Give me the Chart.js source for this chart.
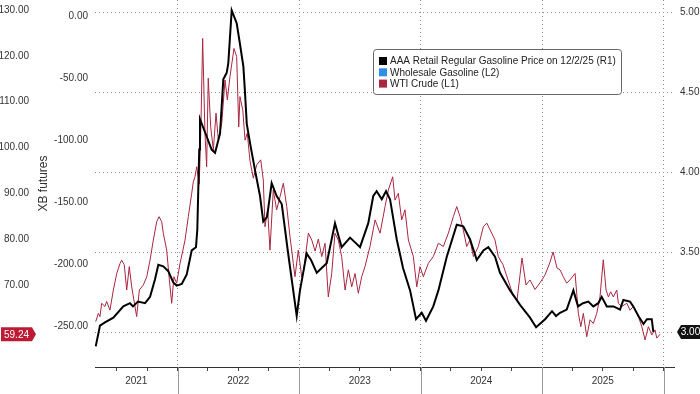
<!DOCTYPE html>
<html>
<head>
<meta charset="utf-8">
<script src="https://cdn.jsdelivr.net/npm/chart.js@4.4.1/dist/chart.umd.min.js"></script>
<style>
  html, body { margin: 0; padding: 0; background: #fff; }
  canvas { display: block; }
</style>
</head>
<body>
<canvas id="chart" width="700" height="394"></canvas>
<script>
// ---- data (dates as decimal years) ----
const retailDates = [2021.327,2021.362,2021.403,2021.472,2021.554,2021.609,2021.634,2021.675,2021.733,2021.774,
  2021.815,2021.842,2021.883,2021.924,2021.965,2021.993,2022.035,2022.076,2022.117,2022.152,2022.163,2022.179,
  2022.185,2022.226,2022.281,2022.309,2022.350,2022.377,2022.405,2022.418,2022.446,2022.487,2022.514,2022.542,
  2022.556,2022.570,2022.597,2022.638,2022.679,2022.706,2022.737,2022.775,2022.816,2022.858,2022.909,2022.981,
  2023.008,2023.063,2023.099,2023.146,2023.228,2023.296,2023.351,2023.420,2023.461,2023.502,2023.570,2023.611,
  2023.639,2023.681,2023.716,2023.749,2023.804,2023.856,2023.914,2023.963,2024.010,2024.045,2024.105,2024.147,
  2024.216,2024.298,2024.352,2024.407,2024.463,2024.517,2024.558,2024.613,2024.654,2024.737,2024.819,2024.901,
  2024.951,2025.025,2025.082,2025.115,2025.148,2025.203,2025.258,2025.296,2025.337,2025.381,2025.422,2025.463,
  2025.491,2025.533,2025.588,2025.642,2025.669,2025.724,2025.751,2025.793,2025.835,2025.863,2025.903,2025.916];
const retailPrices = [2.91,3.04,3.06,3.09,3.16,3.18,3.16,3.19,3.18,3.22,
  3.33,3.42,3.41,3.38,3.31,3.29,3.30,3.36,3.51,3.53,3.64,4.14,
  4.33,4.25,4.14,4.12,4.24,4.58,4.62,4.68,5.01,4.93,4.80,4.66,
  4.49,4.30,4.18,4.01,3.85,3.69,3.72,3.93,3.85,3.80,3.50,3.10,
  3.26,3.49,3.45,3.37,3.43,3.68,3.53,3.59,3.56,3.53,3.68,3.85,
  3.88,3.83,3.88,3.83,3.58,3.40,3.26,3.08,3.12,3.07,3.16,3.26,
  3.47,3.67,3.66,3.58,3.45,3.51,3.53,3.47,3.37,3.26,3.17,3.09,
  3.03,3.08,3.13,3.10,3.12,3.14,3.26,3.16,3.18,3.19,3.16,3.18,
  3.22,3.16,3.16,3.14,3.20,3.19,3.16,3.10,3.05,3.08,3.08,3.00];

const wholesaleDates = [];
const wholesalePrices = [];

const wtiDates = [2021.327,2021.348,2021.362,2021.376,2021.403,2021.417,2021.444,2021.472,2021.500,2021.527,
  2021.541,2021.562,2021.582,2021.603,2021.623,2021.650,2021.664,2021.686,2021.719,2021.747,2021.774,2021.801,
  2021.829,2021.848,2021.870,2021.883,2021.911,2021.933,2021.952,2021.971,2021.993,2022.021,2022.062,2022.089,
  2022.117,2022.130,2022.144,2022.158,2022.179,2022.193,2022.207,2022.226,2022.240,2022.253,2022.273,2022.295,
  2022.317,2022.336,2022.364,2022.391,2022.410,2022.432,2022.465,2022.487,2022.504,2022.514,2022.537,2022.556,
  2022.574,2022.597,2022.624,2022.652,2022.685,2022.706,2022.720,2022.742,2022.761,2022.788,2022.816,2022.844,
  2022.871,2022.899,2022.926,2022.953,2022.967,2022.994,2023.022,2023.035,2023.077,2023.105,2023.132,2023.159,
  2023.187,2023.214,2023.241,2023.269,2023.296,2023.323,2023.351,2023.379,2023.406,2023.434,2023.461,2023.488,
  2023.516,2023.543,2023.584,2023.626,2023.667,2023.708,2023.735,2023.771,2023.790,2023.817,2023.845,2023.872,
  2023.900,2023.941,2023.969,2023.996,2024.023,2024.064,2024.105,2024.147,2024.188,2024.229,2024.270,2024.298,
  2024.325,2024.352,2024.380,2024.407,2024.435,2024.476,2024.517,2024.545,2024.586,2024.613,2024.640,2024.679,
  2024.720,2024.761,2024.794,2024.819,2024.835,2024.868,2024.901,2024.942,2024.984,2025.025,2025.066,2025.091,
  2025.123,2025.148,2025.175,2025.203,2025.230,2025.272,2025.299,2025.319,2025.340,2025.368,2025.395,2025.422,
  2025.450,2025.477,2025.504,2025.527,2025.546,2025.565,2025.587,2025.615,2025.628,2025.656,2025.698,2025.724,
  2025.751,2025.793,2025.821,2025.848,2025.875,2025.903,2025.930,2025.944,2025.971];
const wtiPrices = [62.0,63.8,63.1,66.0,65.3,66.4,64.5,68.9,72.5,74.7,
  75.4,74.4,68.9,74.0,69.6,65.3,63.1,68.9,70.0,71.8,75.4,79.8,
  83.8,84.9,83.8,81.3,77.6,71.1,66.0,71.8,70.4,74.7,79.8,84.9,
  90.0,92.5,93.6,95.8,92.0,105.0,123.8,103.1,95.8,115.1,104.5,99.5,
  107.5,101.6,105.3,114.7,110.4,115.5,121.6,119.8,104.5,111.1,108.2,101.6,
  103.1,97.0,93.3,96.2,97.3,92.9,82.7,86.4,77.6,90.7,86.4,89.3,
  92.2,87.1,80.5,74.7,71.8,77.6,71.8,72.5,81.3,79.8,77.4,80.0,
  76.2,79.1,67.4,72.5,81.3,79.8,76.2,68.9,73.3,69.6,72.5,68.2,
  71.8,74.0,78.4,84.2,81.3,87.1,90.7,93.6,88.5,90.0,84.2,86.4,
  79.8,76.2,69.6,74.0,71.8,74.7,76.2,79.1,78.4,81.3,84.9,87.1,
  84.9,82.0,78.4,79.8,76.2,78.4,82.7,83.5,81.3,79.8,76.2,74.4,
  71.1,67.8,66.7,72.2,75.9,70.0,71.1,69.0,70.5,72.2,75.0,77.2,
  73.7,73.3,71.8,70.4,71.1,72.5,63.8,60.9,63.8,58.7,62.4,61.6,
  63.8,67.4,75.5,68.9,67.4,68.5,67.4,68.9,66.0,65.3,66.0,64.5,
  65.3,63.1,60.9,58.0,60.9,59.1,60.2,58.4,59.24];

// ---- ticks ----
const wtiTicks = [70, 80, 90, 100, 110, 120, 130];
const xbTicks = [-250, -200, -150, -100, -50, 0];
const retailTicks = [3.0, 3.5, 4.0, 4.5, 5.0];
const yearLabels = ['2021', '2022', '2023', '2024', '2025'];
const firstYear = 2021;

// axis ranges
const X_MIN = 2021.321, X_MAX = 2026.086;
const R_MIN = 2.78125, R_MAX = 5.075;
const WTI_MIN = 52.10, WTI_MAX = 132.18;
const XB_MIN = -283.06, XB_MAX = 12.9;

function hasFont(name) {
  const c = document.createElement('canvas').getContext('2d');
  c.font = '20px monospace';
  const a = c.measureText('130.00 Wholesale').width;
  c.font = `20px "${name}", monospace`;
  const b = c.measureText('130.00 Wholesale').width;
  return Math.abs(a - b) > 0.5;
}
const narrow = hasFont('Liberation Sans Narrow');
const FAMILY = narrow ? '"Liberation Sans Narrow", "Liberation Sans", sans-serif' : '"Liberation Sans", Arial, sans-serif';
const TSIZE = narrow ? 11 : 10;
const TEXT = '#333';

const pts = (xs, ys) => xs.map((x, i) => ({ x, y: ys[i] }));

const quarterTicks = [];
for (let y = 2021; y <= 2026; y++) {
  for (let q = 0; q < 4; q++) {
    const v = y + q / 4;
    if (v > X_MIN && v < X_MAX) quarterTicks.push({ value: v });
  }
}
const isYear = v => Math.abs(v - Math.round(v)) < 1e-6;

const tickFont = { family: FAMILY, size: TSIZE };

// year labels + separators under the axis
const yearAxis = {
  id: 'yearAxis',
  afterDraw(chart) {
    const { ctx, chartArea } = chart;
    const x = chart.scales.x;
    ctx.save();
    ctx.strokeStyle = '#9a9a9a';
    ctx.lineWidth = 1;
    for (let y = firstYear + 1; y <= firstYear + yearLabels.length; y++) {
      const px = Math.round(x.getPixelForValue(y)) + 0.5;
      ctx.beginPath();
      ctx.moveTo(px, chartArea.bottom);
      ctx.lineTo(px, chart.height);
      ctx.stroke();
    }
    ctx.fillStyle = TEXT;
    ctx.font = `${TSIZE}px ${FAMILY}`;
    ctx.textAlign = 'center';
    ctx.textBaseline = 'middle';
    yearLabels.forEach((lab, i) => {
      const a = Math.max(firstYear + i, X_MIN), b = Math.min(firstYear + i + 1, X_MAX);
      ctx.fillText(lab, (x.getPixelForValue(a) + x.getPixelForValue(b)) / 2, 381);
    });
    ctx.restore();
  }
};

// last value tags on the axes
function tag(ctx, x0, x1, y, dir, color, text) {
  const h = 14, a = 4;
  ctx.beginPath();
  if (dir === 'right') {
    ctx.moveTo(x0, y - h / 2); ctx.lineTo(x1 - a, y - h / 2); ctx.lineTo(x1, y);
    ctx.lineTo(x1 - a, y + h / 2); ctx.lineTo(x0, y + h / 2);
  } else {
    ctx.moveTo(x1, y - h / 2); ctx.lineTo(x0 + a, y - h / 2); ctx.lineTo(x0, y);
    ctx.lineTo(x0 + a, y + h / 2); ctx.lineTo(x1, y + h / 2);
  }
  ctx.closePath();
  ctx.fillStyle = color;
  ctx.fill();
  ctx.fillStyle = '#fff';
  ctx.font = `${TSIZE}px ${FAMILY}`;
  ctx.textAlign = 'center';
  ctx.textBaseline = 'middle';
  ctx.fillText(text, dir === 'right' ? (x0 + x1 - a) / 2 : (x0 + a + x1) / 2, y + 0.5);
}
const lastTags = {
  id: 'lastTags',
  afterDraw(chart) {
    const ctx = chart.ctx;
    const lw = wtiPrices[wtiPrices.length - 1];
    const lr = retailPrices[retailPrices.length - 1];
    ctx.save();
    tag(ctx, 1, 36, chart.scales.yWti.getPixelForValue(lw), 'right', '#bd1b34', lw.toFixed(2));
    tag(ctx, 677, 700, chart.scales.yR.getPixelForValue(lr), 'left', '#111', lr.toFixed(2));
    ctx.restore();
  }
};

// boxed legend
const boxLegend = {
  id: 'boxLegend',
  afterDraw(chart) {
    const ctx = chart.ctx;
    const ds = chart.data.datasets;
    const bx = 373.5, by = 49.5, bw = 248, bh = 45;
    ctx.save();
    ctx.beginPath();
    ctx.roundRect(bx, by, bw, bh, 3);
    ctx.fillStyle = '#fff';
    ctx.fill();
    ctx.strokeStyle = '#666';
    ctx.lineWidth = 1;
    ctx.stroke();
    ctx.font = `10px ${FAMILY}`;
    const w = ctx.measureText(ds[0].label).width;
    const size = Math.max(9, Math.min(11.5, 10 * 226 / w));
    ctx.font = `${size}px ${FAMILY}`;
    ctx.textBaseline = 'middle';
    ctx.textAlign = 'left';
    ds.forEach((d, i) => {
      const cy = 61 + i * 11.3;
      ctx.fillStyle = d.borderColor;
      ctx.fillRect(379, cy - 4, 8, 8);
      ctx.fillStyle = '#222';
      ctx.fillText(d.label, 390, cy + 0.5);
    });
    ctx.restore();
  }
};

new Chart(document.getElementById('chart'), {
  type: 'line',
  data: {
    datasets: [
      { label: 'AAA Retail Regular Gasoline Price on 12/2/25 (R1)', data: pts(retailDates, retailPrices),
        yAxisID: 'yR', borderColor: '#000000', borderWidth: 2 },
      { label: 'Wholesale Gasoline (L2)', data: pts(wholesaleDates, wholesalePrices),
        yAxisID: 'yXb', borderColor: '#2f8ee6', borderWidth: 1.5 },
      { label: 'WTI Crude (L1)', data: pts(wtiDates, wtiPrices),
        yAxisID: 'yWti', borderColor: '#ab2540', borderWidth: 1 },
    ]
  },
  options: {
    responsive: false,
    animation: false,
    devicePixelRatio: 1,
    layout: { padding: 0 },
    elements: { point: { radius: 0 }, line: { tension: 0 } },
    plugins: { legend: { display: false }, tooltip: { enabled: false } },
    scales: {
      x: {
        type: 'linear', min: X_MIN, max: X_MAX,
        afterBuildTicks: s => { s.ticks = quarterTicks.map(t => ({ value: t.value })); },
        grid: {
          color: c => (c.tick && isYear(c.tick.value)) ? '#8f8f8f' : 'rgba(0,0,0,0)',
          tickColor: '#444', tickLength: 4, drawTicks: true, lineWidth: 1,
        },
        border: { display: true, color: '#333', width: 1, dash: [1, 3] },
        ticks: { display: false },
        afterFit: s => { s.height = 27; s.paddingLeft = 0; s.paddingRight = 0; },
      },
      yR: {
        position: 'right', min: R_MIN, max: R_MAX,
        afterBuildTicks: s => { s.ticks = retailTicks.map(v => ({ value: v })); },
        grid: { color: '#8f8f8f', drawTicks: false, lineWidth: 1 },
        border: { display: false, dash: [1, 3] },
        ticks: { padding: 6, color: TEXT, font: tickFont, callback: v => v === 3 ? '' : v.toFixed(2) },
        afterFit: s => { s.width = 26; s.paddingTop = 0; s.paddingBottom = 0; },
      },
      yXb: {
        position: 'left', weight: 0, min: XB_MIN, max: XB_MAX,
        afterBuildTicks: s => { s.ticks = xbTicks.map(v => ({ value: v })); },
        grid: { display: false, drawTicks: false },
        border: { display: false },
        title: { display: true, text: 'XB futures', color: TEXT, padding: 0,
                 font: { family: '"Liberation Sans", Arial, sans-serif', size: 12 } },
        ticks: { padding: 7, color: TEXT, font: tickFont, callback: v => v.toFixed(2) },
        afterFit: s => { s.width = 59; s.paddingTop = 0; s.paddingBottom = 0; },
      },
      yWti: {
        position: 'left', weight: 1, min: WTI_MIN, max: WTI_MAX,
        afterBuildTicks: s => { s.ticks = wtiTicks.map(v => ({ value: v })); },
        grid: { display: false, drawTicks: false },
        border: { display: false },
        ticks: { padding: 7, color: TEXT, font: tickFont, callback: v => v.toFixed(2) },
        afterFit: s => { s.width = 36; s.paddingTop = 0; s.paddingBottom = 0; },
      },
    }
  },
  plugins: [yearAxis, lastTags, boxLegend]
});
</script>
</body>
</html>
